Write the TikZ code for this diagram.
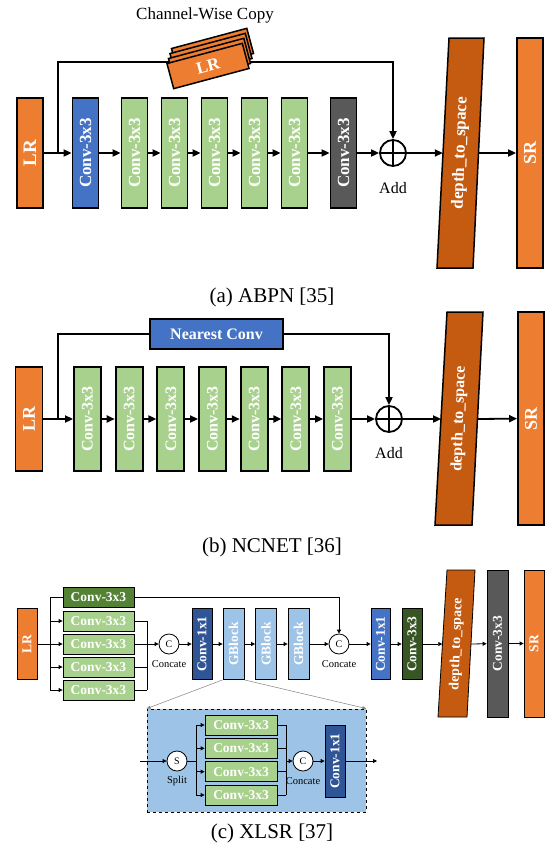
\documentclass[tikz,border=0pt]{standalone}
\usepackage{fontspec}
\setmainfont{Liberation Serif}
\usepackage{graphicx}
\usetikzlibrary{arrows.meta}

\definecolor{lrorange}{HTML}{ED7D31}
\definecolor{convblue}{HTML}{4472C4}
\definecolor{convnavy}{HTML}{2F5597}
\definecolor{convgreen}{HTML}{A9D18E}
\definecolor{convdgreen}{HTML}{548235}
\definecolor{convdkgreen}{HTML}{375623}
\definecolor{convgrey}{HTML}{595959}
\definecolor{d2srust}{HTML}{C55A11}
\definecolor{gblue}{HTML}{9DC3E6}

\newcommand{\vlabel}[1]{\rotatebox{90}{#1}}

\tikzset{
  blk/.style={draw, line width=1.8pt, inner sep=0pt, text=white,
    font=\bfseries\fontsize{17}{17}\selectfont},
  tallA/.style={blk, minimum width=26pt, minimum height=110pt},
  tallB/.style={blk, minimum width=27pt, minimum height=104pt,
    font=\bfseries\fontsize{16}{16}\selectfont},
  sheet/.style={blk, line width=1.5pt, fill=lrorange, rotate=15,
    minimum width=78pt, minimum height=26pt},
  sheetback/.style={draw, line width=1.5pt, fill=lrorange},
  addop/.style={draw, circle, line width=1.8pt, minimum size=26pt, inner sep=0pt},
  d2s/.style={draw, line width=1.5pt, fill=d2srust},
  d2stext/.style={inner sep=0pt, text=white, minimum height=10pt},
  arr/.style={-{Triangle[length=8pt,width=7pt]}, line width=1.8pt},
  caption/.style={font=\fontsize{21}{21}\selectfont},
  note/.style={font=\fontsize{16}{16}\selectfont},
  % small blocks of (c)
  sblk/.style={draw, line width=0.8pt, inner sep=0pt, text=white,
    font=\bfseries\fontsize{13.5}{13.5}\selectfont},
  tallC/.style={sblk, minimum width=20pt, minimum height=71pt},
  hbox/.style={sblk, minimum width=71pt, minimum height=20pt},
  opC/.style={draw, circle, line width=0.8pt, fill=white, minimum size=20pt,
    inner sep=0pt, font=\fontsize{10}{10}\selectfont},
  smalltxt/.style={font=\fontsize{10.5}{10.5}\selectfont},
  ln/.style={line width=0.8pt},
  arrs/.style={-{Triangle[length=4pt,width=4pt]}, line width=0.8pt},
  zoomln/.style={-{Triangle[length=4pt,width=3pt]}, line width=0.5pt, gray},
}

\begin{document}
\begin{tikzpicture}[x=1pt,y=-1pt]
\useasboundingbox (0,0) rectangle (544,854);

% ---------- (a) ABPN ----------
\node[tallA, fill=lrorange, font=\bfseries\fontsize{19}{19}\selectfont] (lrA) at (30,153) {\vlabel{LR}};
\node[tallA, fill=convblue] (cA0) at (85.5,153) {\vlabel{Conv-3x3}};
\foreach \i in {1,...,5}
  \node[tallA, fill=convgreen] (cA\i) at (94.5+40*\i,153) {\vlabel{Conv-3x3}};
\node[tallA, fill=convgrey] (cA6) at (343.5,153) {\vlabel{Conv-3x3}};
\node[addop] (addA) at (393,153) {};
\draw[line width=1.8pt] (addA.north) -- (addA.south) (addA.west) -- (addA.east);
\node[note] (addlA) at (393,188) {Add};
\draw[d2s] (449,38) -- (484,38) -- (473,268) -- (437,268) -- cycle;
\node[d2stext, minimum width=35pt] (dsA) at (460.5,153) {\rotatebox{88}{\bfseries\fontsize{17}{17}\selectfont depth\_to\_space}};
\node[blk, fill=lrorange, minimum width=26pt, minimum height=230pt,
  font=\bfseries\fontsize{18}{18}\selectfont] (srA) at (530,153) {\vlabel{SR}};

\draw[arr] (lrA) -- (cA0);
\foreach \i [count=\j from 1] in {0,...,5}
  \draw[arr] (cA\i) -- (cA\j);
\draw[arr] (cA6) -- (addA);
\draw[arr] (addA) -- (dsA.west);
\draw[arr] (dsA.east) -- (srA);

% skip with channel-wise copy
\coordinate (tapA) at (58,153);
\draw[arr] (tapA) -- (58,62) -| (addA.north);
\foreach \k in {3,2,1}
  \draw[sheetback, rotate around={15:(208+1.5*\k,66-5*\k)}]
    (169+1.5*\k,53-5*\k) rectangle (247+1.5*\k,79-5*\k);
\node[sheet] (lrcopy) at (208,66) {LR};
\node[note, font=\fontsize{17}{17}\selectfont] (cwc) at (205,15) {Channel-Wise Copy};

\node[caption] (capA) at (272,297) {(a) ABPN [35]};

% ---------- (b) NCNET ----------
\node[tallB, fill=lrorange, font=\bfseries\fontsize{18}{18}\selectfont] (lrB) at (29,419) {\vlabel{LR}};
\foreach \i in {1,...,7}
  \node[tallB, fill=convgreen] (cB\i) at (45.8+41.67*\i,419) {\vlabel{Conv-3x3}};
\node[blk, fill=convblue, minimum width=133pt, minimum height=30pt,
  font=\bfseries\fontsize{16}{16}\selectfont] (nearB) at (216.5,334) {Nearest Conv};
\node[addop] (addB) at (389,419) {};
\draw[line width=1.8pt] (addB.north) -- (addB.south) (addB.west) -- (addB.east);
\node[note] (addlB) at (389,453) {Add};
\draw[d2s] (447,312) -- (483,312) -- (472,525) -- (435,525) -- cycle;
\node[d2stext, minimum width=36pt] (dsB) at (459.3,419) {\rotatebox{88}{\bfseries\fontsize{16}{16}\selectfont depth\_to\_space}};
\node[blk, fill=lrorange, minimum width=26pt, minimum height=213pt,
  font=\bfseries\fontsize{18}{18}\selectfont] (srB) at (531,418.5) {\vlabel{SR}};

\draw[arr] (lrB) -- (cB1);
\foreach \i [count=\j from 2] in {1,...,6}
  \draw[arr] (cB\i) -- (cB\j);
\draw[arr] (cB7) -- (addB);
\draw[arr] (addB) -- (dsB.west);
\draw[arr] (dsB.east) -- (srB);

\coordinate (tapB) at (58,419);
\draw[line width=1.8pt] (tapB) |- (nearB.west);
\draw[arr] (nearB.east) -| (addB.north);

\node[caption] (capB) at (272,547) {(b) NCNET [36]};

% ---------- (c) XLSR ----------
\node[tallC, fill=lrorange] (lrC) at (27,644) {\vlabel{LR}};
\node[hbox, fill=convdgreen] (hC1) at (98.5,597.5) {Conv-3x3};
\foreach \i/\y in {2/621,3/644,4/667,5/690}
  \node[hbox, fill=convgreen] (hC\i) at (98.5,\y) {Conv-3x3};

\coordinate (brT) at (50,597.5);
\coordinate (brB) at (50,690);
\draw[ln] (brT) -- (brB);
\draw[ln] (brT) -- (hC1);
\draw[arrs] (lrC) -- (hC3);
\foreach \i in {2,4,5}
  \draw[arrs] (hC\i -| brT) -- (hC\i);

\node[opC] (catC1) at (169,644) {C};
\node[smalltxt] (catl1) at (169,664) {Concate};
\coordinate (mgT) at (147,621);
\coordinate (mgB) at (147,690);
\foreach \i in {2,...,5}
  \draw[ln] (hC\i) -- (hC\i -| mgT);
\draw[ln] (mgT) -- (mgB);
\draw[arrs] (mgT |- catC1) -- (catC1);

\node[tallC, fill=convnavy] (c1C) at (202,644) {\vlabel{Conv-1x1}};
\foreach \i/\x in {1/233.5,2/266,3/298.5}
  \node[tallC, fill=gblue, minimum width=21pt] (gC\i) at (\x,644) {\vlabel{GBlock}};
\node[opC] (catC2) at (339,644) {C};
\node[smalltxt] (catl2) at (339,664) {Concate};
\node[tallC, fill=convblue, minimum width=19pt] (c1C2) at (380.5,644) {\vlabel{Conv-1x1}};
\node[tallC, fill=convdkgreen] (c3C) at (412,644) {\vlabel{Conv-3x3}};
\draw[d2s, line width=0.8pt] (447,570) -- (475,570) -- (467,717) -- (438,717) -- cycle;
\node[d2stext, minimum width=28.5pt] (dsC) at (456.7,644) {\rotatebox{88}{\bfseries\fontsize{14}{14}\selectfont depth\_to\_space}};
\node[sblk, fill=convgrey, minimum width=21pt, minimum height=147pt] (gyC) at (497.5,643.5) {\vlabel{Conv-3x3}};
\node[sblk, fill=lrorange, minimum width=20pt, minimum height=147pt] (srC) at (534,643.5) {\vlabel{SR}};

\draw[arrs] (catC1) -- (c1C);
\draw[arrs] (c1C) -- (gC1);
\draw[arrs] (gC1) -- (gC2);
\draw[arrs] (gC2) -- (gC3);
\draw[arrs] (gC3) -- (catC2);
\draw[arrs] (hC1) -| (catC2);
\draw[arrs] (catC2) -- (c1C2);
\draw[arrs] (c1C2) -- (c3C);
\draw[arrs] (c3C) -- (dsC.west);
\draw[arrs] (dsC.east) -- (gyC);
\draw[arrs] (gyC) -- (srC);

% GBlock detail
\node[draw, dashed, line width=0.8pt, fill=gblue, minimum width=219pt,
  minimum height=103pt, inner sep=0pt] (gdet) at (256.5,760.5) {};
\draw[zoomln] (gC1.south west) -- (gdet.north west);
\draw[zoomln] (gC1.south east) -- (gdet.north east);

\coordinate (inD) at (140,761);
\node[opC] (splD) at (177,761) {S};
\node[smalltxt] (spll) at (177,781) {Split};
\draw[arrs] (inD) -- (splD);
\foreach \i/\y in {1/725,2/748.3,3/771.7,4/795}
  \node[hbox, minimum width=72pt, fill=convgreen] (dC\i) at (241,\y) {Conv-3x3};
\coordinate (brD) at (196,761);
\draw[ln] (splD) -- (brD);
\draw[ln] (dC1 -| brD) -- (dC4 -| brD);
\foreach \i in {1,...,4}
  \draw[arrs] (dC\i -| brD) -- (dC\i);
\node[opC] (catD) at (303,761) {C};
\node[smalltxt] (catlD) at (303,781) {Concate};
\coordinate (mgD) at (286,761);
\foreach \i in {1,...,4}
  \draw[ln] (dC\i) -- (dC\i -| mgD);
\draw[ln] (dC1 -| mgD) -- (dC4 -| mgD);
\draw[arrs] (mgD) -- (catD);
\node[sblk, fill=convnavy, minimum width=20pt, minimum height=72pt] (c1D) at (335,761) {\vlabel{Conv-1x1}};
\coordinate (outD) at (377,761);
\draw[arrs] (catD) -- (c1D);
\draw[arrs] (c1D) -- (outD);

\node[caption] (capC) at (272,833) {(c) XLSR [37]};
\end{tikzpicture}
\end{document}
